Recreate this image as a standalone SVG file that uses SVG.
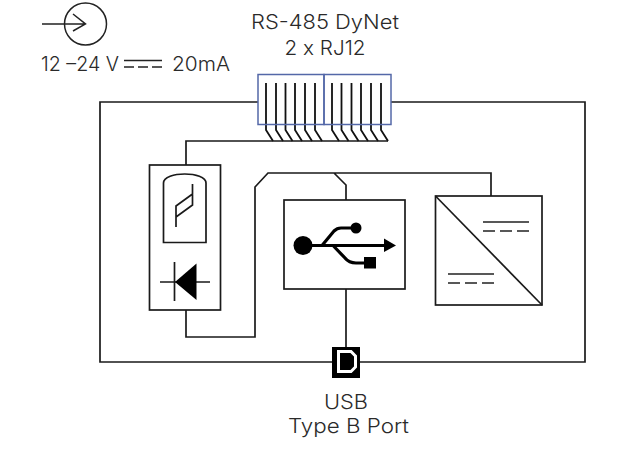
<svg xmlns="http://www.w3.org/2000/svg" width="617" height="449" viewBox="0 0 617 449">
<style>
.l{fill:none;stroke:#1a1a1a;stroke-width:1.7}
.t{fill:none;stroke:#222;stroke-width:1.5}
.k{fill:none;stroke:#111;stroke-width:1.8}
.b{fill:#000;stroke:none}
text{font-family:Inter,"Liberation Sans",sans-serif;font-size:20px;font-weight:300;fill:#2a2a2a;text-anchor:middle}
</style>
<rect width="617" height="449" fill="#fff"/>
<g id="connectors">
<path class="l" d="M258 102H100V362H332M360 362H585V102H391"/>
<path class="l" d="M186 165V141H388"/>
<path class="l" d="M186 310V337H255V187L268 173H334L346 185V200M334 173H491V196"/>
<path class="l" d="M346 289V347"/>
</g>
<g id="power-symbol">
<circle class="t" cx="85.500" cy="24" r="21"/>
<path class="t" d="M42 24H85M73 14L85.500 24L73 31"/>
<text x="80" y="71" textLength="78" lengthAdjust="spacingAndGlyphs">12 –24 V</text>
<path class="t" d="M124 60.500H162M124 67H134M138 67H148M152 67H162"/>
<text x="201" y="71" textLength="58" lengthAdjust="spacingAndGlyphs">20mA</text>
</g>
<g id="rj12-terminals">
<text x="325" y="29" textLength="148" lengthAdjust="spacingAndGlyphs">RS-485 DyNet</text>
<text x="325" y="55" textLength="81" lengthAdjust="spacingAndGlyphs">2 x RJ12</text>
<path class="k" d="M266 83V130L273 141M276 83V130L283 141M285.500 83V130L292.500 141M295 83V130L302 141M305 83V130L312 141M315 83V130L322 141M332 83V130L339 141M341.500 83V130L348.500 141M351.500 83V130L358.500 141M361 83V130L368 141M371 83V130L378 141M381 83V130L388 141"/>
<rect x="258" y="74.500" width="66" height="50" fill="none" stroke="#5468a8" stroke-width="1.500"/>
<rect x="324" y="74.500" width="67" height="50" fill="none" stroke="#5468a8" stroke-width="1.500"/>
</g>
<g id="sensor-node">
<rect class="l" x="149.500" y="165" width="71" height="145"/>
<path class="l" d="M163.500 242.500V183C163.500 171 206 171 206 183V242.500Z"/>
<path class="l" d="M176 227V206L192.500 194V184M192.500 194V205L176 217"/>
<path class="l" d="M160 282H210M174.500 262V301"/>
<path class="b" d="M175 282L196.500 263.500V300Z"/>
</g>
<g id="usb-node">
<rect class="l" x="284" y="200" width="121" height="89"/>
<circle class="b" cx="303" cy="245.500" r="9.500"/>
<path class="b" d="M310 244H384V238.500L396 245.500L384 252V247H310Z"/>
<path fill="none" stroke="#000" stroke-width="3.200" d="M322 245.500L334 231Q337 228 341 228H356M333 245.500L345 258Q349 263 356 263H366"/>
<circle class="b" cx="356" cy="228" r="5.500"/>
<rect class="b" x="364" y="257" width="12" height="11.500"/>
</g>
<g id="converter-node">
<rect class="l" x="435.500" y="196" width="106.500" height="109"/>
<path class="l" d="M435.500 196L542 305"/>
<path class="t" d="M483 222H529M483 231H495M500 231H512M517 231H529M448 274H494M448 283H460M465 283H477M482 283H494"/>
</g>
<g id="usb-port">
<rect class="b" x="332" y="347" width="28" height="31"/>
<path fill="#000" stroke="#fff" stroke-width="3" d="M338.500 351.500H351L355.500 356V367L351 371.500H338.500Z"/>
<text x="346" y="409" textLength="44" lengthAdjust="spacingAndGlyphs">USB</text>
<text x="348.500" y="433" textLength="121" lengthAdjust="spacingAndGlyphs">Type B Port</text>
</g>
</svg>
